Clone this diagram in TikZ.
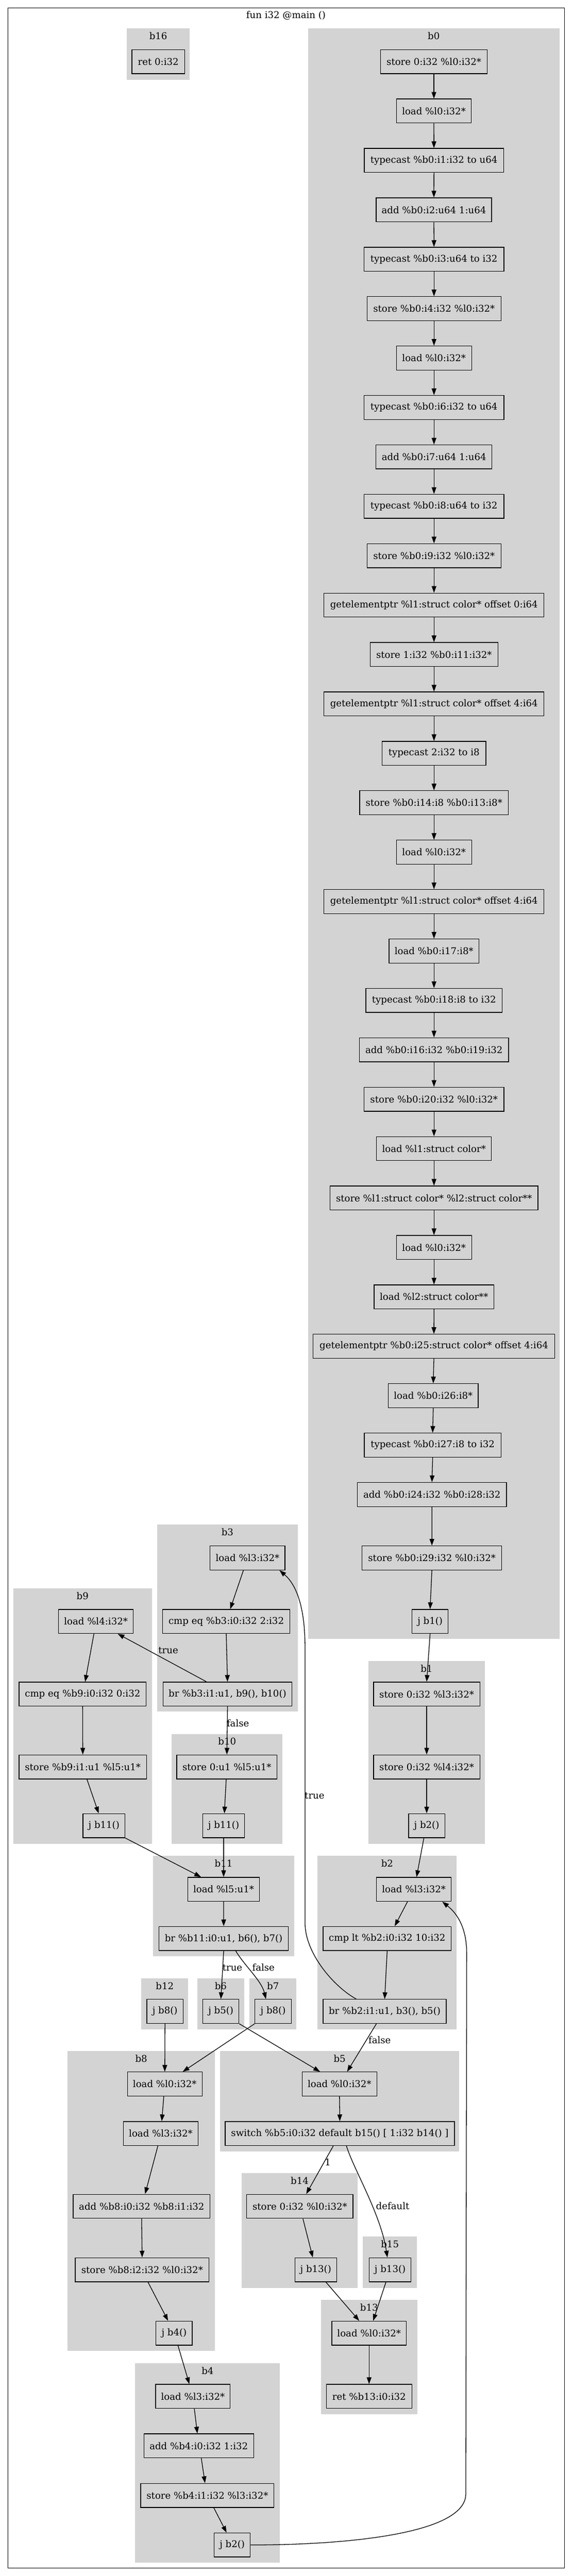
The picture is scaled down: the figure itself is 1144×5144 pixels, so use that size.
\documentclass[tikz,border=0pt]{standalone}
\usepackage{fontspec}
\setmainfont{DejaVu Serif}
\usetikzlibrary{arrows.meta}
\definecolor{lg}{HTML}{D3D3D3}
\tikzset{
  nd/.style={draw=black, fill=lg, line width=1pt, rectangle, minimum height=36pt, inner sep=0pt, font=\fontsize{14pt}{16pt}\selectfont},
  cllab/.style={inner sep=0pt, font=\fontsize{14pt}{16pt}\selectfont},
  ed/.style={draw=black, line width=1pt, -{Triangle[length=10pt,width=7pt]}},
  el/.style={inner sep=0pt, font=\fontsize{14pt}{16pt}\selectfont},
}
\newcommand\mknode[5]{\node[nd, minimum width={#4*0.75pt}] (#1) at (#2,{#3+24}) {#5};}
\newcommand\mkclus[6]{\fill[lg] (#2,#4) rectangle (#3,#5); \node[cllab] (#1) at ({(#2+#3)/2},{#4+15}) {#6};}
\begin{document}
\begin{tikzpicture}[x=0.75pt,y=-0.75pt]
\useasboundingbox (0,0) rectangle (1144,5144);
\draw[line width=1pt] (16,15.7) rectangle (1127,5128);
\node[cllab] (title) at (571,30.7) {fun i32 @main ()};
% clusters
\mkclus{lb16}{253}{379}{56.7}{159}{b16}
\mkclus{lb0}{615}{1117}{56.7}{3273}{b0}
\mkclus{lb3}{313.7}{594.6}{3044}{3418}{b3}
\mkclus{lb9}{26.3}{303.5}{3171.5}{3681.8}{b9}
\mkclus{lb10}{343}{564}{3462.5}{3681.8}{b10}
\mkclus{lb1}{735.4}{968}{3317}{3681.8}{b1}
\mkclus{lb11}{305.7}{587.3}{3706}{3906.8}{b11}
\mkclus{lb2}{634}{912}{3706}{4052}{b2}
\mkclus{lb12}{282.4}{375.7}{3950.4}{4052}{b12}
\mkclus{lb6}{394}{487.4}{3950.4}{4052}{b6}
\mkclus{lb7}{498.3}{591.7}{3950.4}{4052}{b7}
\mkclus{lb8}{135}{429}{4095.5}{4694.7}{b8}
\mkclus{lb5}{439.2}{917}{4095.5}{4296}{b5}
\mkclus{lb14}{482.3}{714.3}{4339.7}{4568.6}{b14}
\mkclus{lb15}{724.5}{832.5}{4466}{4568.6}{b15}
\mkclus{lb13}{640.6}{833.2}{4592.3}{4821.3}{b13}
\mkclus{lb4}{270}{558.9}{4719}{5117.6}{b4}
% b16
\mknode{r16}{316}{99}{105}{ret 0:i32}
% b0
\mknode{a1}{866.3}{99}{212.5}{store 0:i32 \%l0:i32*}
\mknode{a2}{866.3}{197.67}{149.4}{load \%l0:i32*}
\mknode{a3}{866.4}{296.33}{278}{typecast \%b0:i1:i32 to u64}
\mknode{a4}{866.3}{395}{230.6}{add \%b0:i2:u64 1:u64}
\mknode{a5}{866.5}{493.67}{279.6}{typecast \%b0:i3:u64 to i32}
\mknode{a6}{866.5}{592.33}{267.3}{store \%b0:i4:i32 \%l0:i32*}
\mknode{a7}{866.5}{691}{150}{load \%l0:i32*}
\mknode{a8}{866.5}{789.67}{279.6}{typecast \%b0:i6:i32 to u64}
\mknode{a9}{866.5}{888.33}{231.3}{add \%b0:i7:u64 1:u64}
\mknode{a10}{866.5}{987}{279.6}{typecast \%b0:i8:u64 to i32}
\mknode{a11}{866.5}{1085.67}{267.3}{store \%b0:i9:i32 \%l0:i32*}
\mknode{a12}{866.5}{1184.33}{439.3}{getelementptr \%l1:struct color* offset 0:i64}
\mknode{a13}{866.5}{1283}{255}{store 1:i32 \%b0:i11:i32*}
\mknode{a14}{866.5}{1381.67}{439.3}{getelementptr \%l1:struct color* offset 4:i64}
\mknode{a15}{866.5}{1480.33}{207}{typecast 2:i32 to i8}
\mknode{a16}{866.5}{1579}{296.7}{store \%b0:i14:i8 \%b0:i13:i8*}
\mknode{a17}{866.5}{1677.67}{150}{load \%l0:i32*}
\mknode{a18}{866.5}{1776.33}{439.3}{getelementptr \%l1:struct color* offset 4:i64}
\mknode{a19}{866.5}{1875}{179.6}{load \%b0:i17:i8*}
\mknode{a20}{866.5}{1973.67}{272.4}{typecast \%b0:i18:i8 to i32}
\mknode{a21}{866.5}{2072.33}{298}{add \%b0:i16:i32 \%b0:i19:i32}
\mknode{a22}{866.5}{2171}{279.6}{store \%b0:i20:i32 \%l0:i32*}
\mknode{a23}{866.5}{2269.67}{229.6}{load \%l1:struct color*}
\mknode{a24}{866.5}{2368.33}{415.3}{store \%l1:struct color* \%l2:struct color**}
\mknode{a25}{866.5}{2467}{150}{load \%l0:i32*}
\mknode{a26}{866.5}{2565.67}{239.3}{load \%l2:struct color**}
\mknode{a27}{866.3}{2664.33}{482}{getelementptr \%b0:i25:struct color* offset 4:i64}
\mknode{a28}{865}{2763}{179.4}{load \%b0:i26:i8*}
\mknode{a29}{863.8}{2861.67}{273}{typecast \%b0:i27:i8 to i32}
\mknode{a30}{862.4}{2960.33}{297.6}{add \%b0:i24:i32 \%b0:i28:i32}
\mknode{a31}{862.3}{3087}{278.7}{store \%b0:i29:i32 \%l0:i32*}
\mknode{a32}{858.7}{3213.8}{72}{j b1()}
% b1
\mknode{c1}{851.9}{3358.9}{212.3}{store 0:i32 \%l3:i32*}
\mknode{c2}{851.9}{3504.3}{212.3}{store 0:i32 \%l4:i32*}
\mknode{c3}{851.9}{3621.7}{72.3}{j b2()}
% b2
\mknode{d1}{826.3}{3748.8}{149.5}{load \%l3:i32*}
\mknode{d2}{773}{3847}{256}{cmp lt \%b2:i0:i32 10:i32}
\mknode{d3}{768}{3992.5}{246}{br \%b2:i1:u1, b3(), b5()}
% b3
\mknode{e1}{494.3}{3087}{149.5}{load \%l3:i32*}
\mknode{e2}{451.7}{3213.8}{254}{cmp eq \%b3:i0:i32 2:i32}
\mknode{e3}{454.2}{3358.9}{257.6}{br \%b3:i1:u1, b9(), b10()}
% b9
\mknode{f1}{191.5}{3213.8}{149.6}{load \%l4:i32*}
\mknode{f2}{165}{3358.9}{253.8}{cmp eq \%b9:i0:i32 0:i32}
\mknode{f3}{165.3}{3504.3}{254.6}{store \%b9:i1:u1 \%l5:u1*}
\mknode{f4}{207.6}{3621.7}{84}{j b11()}
% b10
\mknode{g1}{453}{3504.3}{200}{store 0:u1 \%l5:u1*}
\mknode{g2}{446.5}{3621.7}{83}{j b11()}
% b11
\mknode{h1}{446.5}{3748.8}{143}{load \%l5:u1*}
\mknode{h2}{446.6}{3847}{258.3}{br \%b11:i0:u1, b6(), b7()}
% b12, b6, b7
\mknode{m12}{329.4}{3992.5}{72.2}{j b8()}
\mknode{m6}{441}{3992.5}{72}{j b5()}
\mknode{m7}{545.3}{3992.5}{72.5}{j b8()}
% b8
\mknode{k1}{329}{4137.6}{149}{load \%l0:i32*}
\mknode{k2}{321}{4236.4}{149}{load \%l3:i32*}
\mknode{k3}{282.8}{4381.8}{273.5}{add \%b8:i0:i32 \%b8:i1:i32}
\mknode{k4}{283.8}{4508.5}{267}{store \%b8:i2:i32 \%l0:i32*}
\mknode{k5}{347.7}{4635}{72.3}{j b4()}
% b5
\mknode{p1}{677.8}{4137.6}{149}{load \%l0:i32*}
\mknode{p2}{678.5}{4236.4}{458}{switch \%b5:i0:i32 default b15() [ 1:i32 b14() ]}
% b14
\mknode{q1}{598.6}{4381.8}{212.3}{store 0:i32 \%l0:i32*}
\mknode{q2}{630.4}{4508.5}{83.2}{j b13()}
% b15
\mknode{s1}{778.9}{4508.5}{83.8}{j b13()}
% b13
\mknode{t1}{736.9}{4635}{149}{load \%l0:i32*}
\mknode{t2}{736.9}{4761.3}{171}{ret \%b13:i0:i32}
% b4
\mknode{u1}{385.2}{4761.3}{149}{load \%l3:i32*}
\mknode{u2}{396.9}{4860}{219}{add \%b4:i0:i32 1:i32}
\mknode{u3}{414}{4959}{266}{store \%b4:i1:i32 \%l3:i32*}
\mknode{u4}{463.6}{5058}{72.3}{j b2()}
% edges b0
\foreach \i [evaluate=\i as \j using int(\i+1)] in {1,...,31} {\draw[ed] (a\i.south) -- (a\j.north);}
\draw[ed] (a32.south) -- (c1.north);
\draw[ed] (c1.south) -- (c2.north);
\draw[ed] (c2.south) -- (c3.north);
\draw[ed] ([shift={(-5.6,0)}]c3.south) -- ([shift={(5.4,0)}]d1.north);
\draw[ed] ([shift={(-12.8,0)}]d1.south) -- ([shift={(15,0)}]d2.north);
\draw[ed] (d2.south) -- (d3.north);
\draw[ed] ([shift={(-56.6,0)}]d3.north) .. controls (666,3967) and (609,3900) .. (609,3840) -- (609,3290) .. controls (609,3205) and (590,3163) .. ([shift={(63.7,0)}]e1.south);
\node[el] (lt1) at (628,3586) {true};
\draw[ed] ([shift={(-16.5,0)}]d3.south) -- ([shift={(15.2,0)}]p1.north);
\node[el] (lf1) at (758,4074) {false};
% b3
\draw[ed] ([shift={(-8.3,0)}]e1.south) -- ([shift={(7.9,0)}]e2.north);
\draw[ed] (e2.south) -- (e3.north);
\draw[ed] ([shift={(-42,0)}]e3.north) -- ([shift={(43.5,0)}]f1.south);
\node[el] (lt2) at (336,3296) {true};
\draw[ed] (e3.south) -- (g1.north);
\node[el] (lf2) at (475,3441) {false};
% b9
\draw[ed] ([shift={(-4,0)}]f1.south) -- ([shift={(5,0)}]f2.north);
\draw[ed] (f2.south) -- (f3.north);
\draw[ed] ([shift={(8.3,0)}]f3.south) -- ([shift={(-10.6,0)}]f4.north);
\draw[ed] (f4.south east) -- ([shift={(-45.2,0)}]h1.north);
% b10
\draw[ed] ([shift={(-1.4,0)}]g1.south) -- ([shift={(1.5,0)}]g2.north);
\draw[ed] (g2.south) -- (h1.north);
% b11
\draw[ed] (h1.south) -- (h2.north);
\draw[ed] (h2.south) -- (m6.north);
\node[el] (lt3) at (464,3929) {true};
\draw[ed] ([shift={(24,0)}]h2.south) .. controls (488,3925) and (522,3955) .. ([shift={(-14.3,0)}]m7.north);
\node[el] (lf3) at (526,3929) {false};
% b12, b6, b7
\draw[ed] (m12.south) -- (k1.north);
\draw[ed] (m7.south west) -- ([shift={(35.8,0)}]k1.north);
\draw[ed] (m6.south east) -- ([shift={(-38.8,0)}]p1.north);
% b5
\draw[ed] (p1.south) -- (p2.north);
\draw[ed] ([shift={(-13.1,0)}]p2.south) -- ([shift={(12.8,0)}]q1.north);
\node[el] (l1) at (654.5,4318) {1};
\draw[ed] ([shift={(13.2,0)}]p2.south) .. controls (705,4330) and (760,4420) .. ([shift={(-5.5,0)}]s1.north);
\node[el] (ld) at (784,4405) {default};
% b14, b15
\draw[ed] ([shift={(6.2,0)}]q1.south) -- ([shift={(-5.9,0)}]q2.north);
\draw[ed] ([shift={(20.4,0)}]q2.south) -- ([shift={(-19.7,0)}]t1.north);
\draw[ed] ([shift={(-8.4,0)}]s1.south) -- ([shift={(8.1,0)}]t1.north);
% b13
\draw[ed] (t1.south) -- (t2.north);
% b8
\draw[ed] ([shift={(-2,0)}]k1.south) -- ([shift={(2,0)}]k2.north);
\draw[ed] ([shift={(-5.8,0)}]k2.south) -- ([shift={(6.9,0)}]k3.north);
\draw[ed] (k3.south) -- (k4.north);
\draw[ed] ([shift={(11.7,0)}]k4.south) -- ([shift={(-12.1,0)}]k5.north);
\draw[ed] ([shift={(7.6,0)}]k5.south) -- ([shift={(-7.2,0)}]u1.north);
% b4
\draw[ed] ([shift={(2.8,0)}]u1.south) -- ([shift={(-2.9,0)}]u2.north);
\draw[ed] ([shift={(5,0)}]u2.south) -- ([shift={(-4.7,0)}]u3.north);
\draw[ed] ([shift={(12.8,0)}]u3.south) -- ([shift={(-11.2,0)}]u4.north);
\draw[ed] (u4.east) .. controls (680,5082) and (930,5062) .. (930,4980) -- (931.7,3900) .. controls (931.7,3840) and (905,3815) .. ([shift={(56.7,0)}]d1.south);
\end{tikzpicture}
\end{document}
